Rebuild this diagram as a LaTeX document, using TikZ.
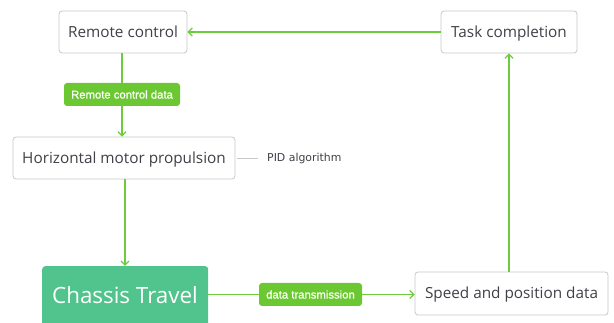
\documentclass[tikz,border=0pt]{standalone}
\usepackage{fontspec}
\setmainfont{Open Sans}
\newfontfamily\labelfont[FakeBold=0.8]{Liberation Sans}
\newfontfamily\notefont{DejaVu Sans}
\usetikzlibrary{arrows.meta}
\definecolor{linkgreen}{HTML}{6DCC3C}
\definecolor{tagfill}{HTML}{6CC832}
\definecolor{mainfill}{HTML}{50C48C}
\definecolor{boxline}{HTML}{C8C8C8}
\definecolor{boxtext}{HTML}{404048}
\tikzset{
  x=1pt, y=-1pt,
  topic/.style={draw=boxline, line width=0.8pt, rounded corners=3pt, fill=white,
    text=boxtext, font=\fontsize{15.3}{18}\selectfont, anchor=center,
    text height=11pt, text depth=0pt},
  tag/.style={fill=tagfill, rounded corners=3pt, text=white,
    font=\labelfont\fontsize{11.3}{13}\selectfont, anchor=center,
    text height=8.1pt, text depth=0pt},
  link/.style={draw=linkgreen, line width=1.3pt},
  arrowlink/.style={link, -{Straight Barb[length=4pt,width=8pt,line width=1.3pt]}},
}
\begin{document}
\begin{tikzpicture}
\useasboundingbox (0,0) rectangle (614,323);
\clip (0,0) rectangle (614,323);
% topic boxes
\node[topic, minimum width=128pt, minimum height=42pt] (remote) at (123,32) {Remote control};
\node[topic, minimum width=136pt, minimum height=42pt] (task) at (509,32) {Task completion};
\node[topic, minimum width=222pt, minimum height=42pt] (motor) at (124,158) {Horizontal motor propulsion};
\node[topic, minimum width=193pt, minimum height=43pt] (speed) at (511.5,293.5) {Speed and position data};
\node[fill=mainfill, rounded corners=3pt, minimum width=166pt, minimum height=70pt,
  anchor=north west] (chassis) at (42,266) {};
\node[text=white, font=\fontsize{22.4}{26}\selectfont, text height=16pt, text depth=0pt]
  (chassistext) at (125,296) {Chassis Travel};
% floating remark
\coordinate (pidstart) at (237,158);
\coordinate (pidend) at (258,158);
\node[text=boxtext, font=\notefont\fontsize{10.9}{13}\selectfont, anchor=west, inner sep=0pt,
  text height=7.9pt, text depth=0pt] (pid) at (267,158) {PID algorithm};
\draw[draw=boxline, line width=0.8pt] (pidstart) -- (pidend);
% connector tags
\node[tag, minimum width=116pt, minimum height=23pt] (rcdata) at (122,94.5) {Remote control data};
\node[tag, minimum width=103pt, minimum height=23pt] (trans) at (310.5,294.5) {data transmission};
% connectors
\draw[link] (remote.south -| rcdata) -- (rcdata.north);
\draw[arrowlink] (rcdata.south) -- (rcdata.south |- motor.north);
\draw[arrowlink] (motor.south -| chassistext) -- (chassis.north -| chassistext);
\draw[link] (chassis.east |- trans) -- (trans.west);
\draw[arrowlink] (trans.east) -- (speed.west |- trans);
\draw[arrowlink] (speed.north -| task) -- (task.south);
\draw[arrowlink] (task.west) -- (remote.east);
\end{tikzpicture}
\end{document}
